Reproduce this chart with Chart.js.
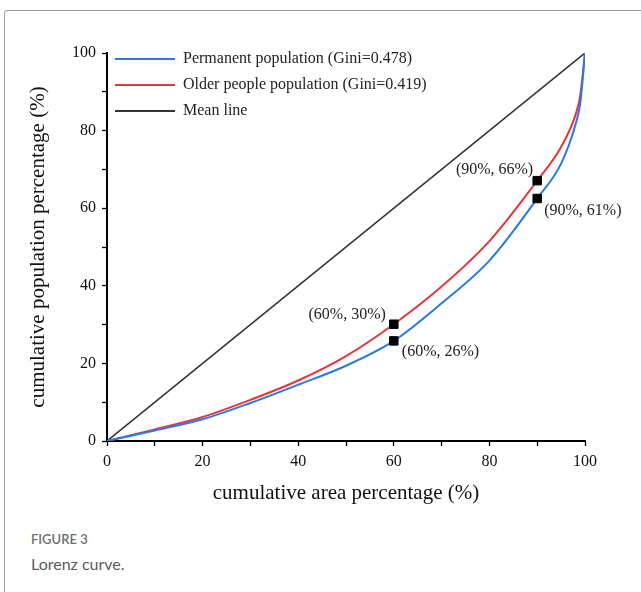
<!DOCTYPE html>
<html>
<head>
<meta charset="utf-8">
<script src="https://cdn.jsdelivr.net/npm/chart.js@4.4.0/dist/chart.umd.min.js"></script>
<style>
  body { margin: 0; background: #fff; width: 641px; height: 592px; overflow: hidden; position: relative; }
  #frame { position: absolute; left: 4px; top: 10px; width: 700px; height: 700px; border: 1.5px solid #9c9c9c; border-radius: 3px; }
  #box { position: absolute; left: 0; top: 0; width: 641px; height: 510px; }
  .figno { position: absolute; left: 31px; top: 531px; font-family: Lato, "Open Sans", sans-serif; font-size: 13px; font-weight: 600; color: #6e6e6e; }
  .figcap { position: absolute; left: 31px; top: 554px; font-family: Lato, "Open Sans", sans-serif; font-size: 16px; color: #5a5a5a; }
</style>
</head>
<body>
<div id="frame"></div>
<div id="box"><canvas id="lorenz"></canvas></div>
<div class="figno">FIGURE 3</div>
<div class="figcap">Lorenz curve.</div>
<script>
// cumulative area percentage (x) and the two Lorenz curves
var areaPct = [0, 10, 20, 30, 40, 50, 60, 70, 80, 90, 95, 98, 99, 100];
var permanentPct = [0, 2.7, 5.6, 9.8, 14.5, 19.4, 25.8, 35.5, 46.5, 62.5, 71.5, 81.5, 87, 100];
var olderPct = [0, 3, 6.2, 10.6, 15.6, 21.9, 30.1, 39.8, 51.5, 67.1, 75.8, 84, 89, 100];
var meanX = [0, 100];
var meanY = [0, 100];

var seriesNames = ["Permanent population (Gini=0.478)", "Older people population (Gini=0.419)", "Mean line"];

// marked points and their labels
var markX = [60, 60, 90, 90];
var markY = [30.1, 25.8, 67.1, 62.5];
var markText = ["(60%, 30%)", "(60%, 26%)", "(90%, 66%)", "(90%, 61%)"];

function toPoints(xs, ys) {
  var pts = [];
  for (var i = 0; i < xs.length; i++) {
    pts.push({ x: xs[i], y: ys[i] });
  }
  return pts;
}

var serif = "'Liberation Serif', 'Times New Roman', serif";

// legend in the upper left of the plot plus the point labels
var overlay = {
  id: "overlay",
  afterDatasetsDraw: function(chart) {
    var ctx = chart.ctx;
    var area = chart.chartArea;
    var sx = chart.scales.x, sy = chart.scales.y;
    ctx.save();
    ctx.font = "16px " + serif;
    ctx.textBaseline = "middle";
    ctx.fillStyle = "#222";
    for (var i = 0; i < 3; i++) {
      var ds = chart.data.datasets[i];
      var ly = area.top + 6 + i * 26;
      ctx.strokeStyle = ds.borderColor;
      ctx.lineWidth = 2;
      ctx.beginPath();
      ctx.moveTo(area.left + 8, ly);
      ctx.lineTo(area.left + 68, ly);
      ctx.stroke();
      ctx.textAlign = "left";
      ctx.fillText(ds.label, area.left + 76, ly);
    }
    for (var k = 0; k < markText.length; k++) {
      var px = sx.getPixelForValue(markX[k]);
      var py = sy.getPixelForValue(markY[k]);
      if (k === 0) { ctx.textAlign = "right"; ctx.fillText(markText[k], px - 8, py - 9); }
      if (k === 1) { ctx.textAlign = "left"; ctx.fillText(markText[k], px + 8, py + 11); }
      if (k === 2) { ctx.textAlign = "right"; ctx.fillText(markText[k], px - 4, py - 11); }
      if (k === 3) { ctx.textAlign = "left"; ctx.fillText(markText[k], px + 7, py + 12); }
    }
    ctx.restore();
  }
};

function axisTicks(v) {
  return v % 20 === 0 ? v : "";
}

var ctx1 = document.getElementById("lorenz");

var chart1 = new Chart(ctx1, {
  type: "line",
  data: {
    datasets: [
      {
        label: seriesNames[0],
        data: toPoints(areaPct, permanentPct),
        borderColor: "#2a79e3",
        borderWidth: 2,
        pointRadius: 0,
        cubicInterpolationMode: "monotone",
        order: 2
      },
      {
        label: seriesNames[1],
        data: toPoints(areaPct, olderPct),
        borderColor: "#e8353b",
        borderWidth: 2,
        pointRadius: 0,
        cubicInterpolationMode: "monotone",
        order: 3
      },
      {
        label: seriesNames[2],
        data: toPoints(meanX, meanY),
        borderColor: "#333333",
        borderWidth: 1.6,
        pointRadius: 0,
        order: 4
      },
      {
        label: "marks",
        data: toPoints(markX, markY),
        showLine: false,
        pointStyle: "rect",
        pointRadius: 6,
        pointBackgroundColor: "#000",
        pointBorderColor: "#000",
        order: 1
      }
    ]
  },
  options: {
    responsive: true,
    maintainAspectRatio: false,
    animation: false,
    layout: { padding: { left: 22, top: 53, right: 56, bottom: 0 } },
    plugins: {
      legend: { display: false },
      tooltip: { enabled: false }
    },
    scales: {
      x: {
        type: "linear",
        min: 0,
        max: 100,
        afterFit: function(s) { s.height = 69; },
        border: { display: true, color: "#000", width: 2 },
        grid: { display: true, drawOnChartArea: false, drawTicks: true, tickLength: 5, tickColor: "#000", tickWidth: 1.3 },
        ticks: { stepSize: 10, autoSkip: false, maxRotation: 0, padding: 6, color: "#111", font: { family: serif, size: 16 }, callback: axisTicks },
        title: { display: true, text: "cumulative area percentage (%)", color: "#111", font: { family: serif, size: 21 }, padding: { top: 4, bottom: 4 } }
      },
      y: {
        type: "linear",
        min: 0,
        max: 100,
        afterFit: function(s) { s.width = 85; },
        border: { display: true, color: "#000", width: 2 },
        grid: { display: true, drawOnChartArea: false, drawTicks: true, tickLength: 5, tickColor: "#000", tickWidth: 1.3 },
        ticks: { stepSize: 10, autoSkip: false, padding: 6, color: "#111", font: { family: serif, size: 16 }, callback: axisTicks },
        title: { display: true, text: "cumulative population percentage (%)", color: "#111", font: { family: serif, size: 21 }, padding: { top: 4, bottom: 4 } }
      }
    }
  },
  plugins: [overlay]
});
</script>
</body>
</html>
